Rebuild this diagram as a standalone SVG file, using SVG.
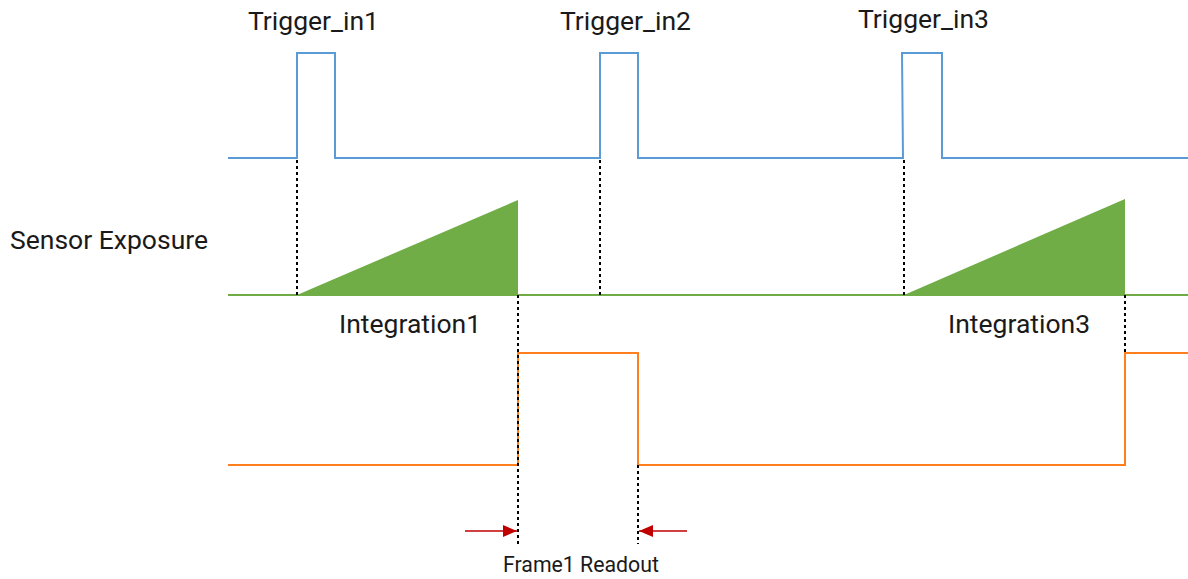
<svg xmlns="http://www.w3.org/2000/svg" width="1188" height="579" viewBox="0 0 1188 579">
<style>
.lbl{font-family:Roboto,"Liberation Sans",sans-serif;fill:#1a1a1a}
.big{font-size:26.5px}
.sm{font-size:21.3px}
.blue{fill:none;stroke:#5B9BD5;stroke-width:2}
.green{fill:none;stroke:#70AD47;stroke-width:2}
.orange{fill:none;stroke:#FF7F1E;stroke-width:2}
.dot{stroke:#000;stroke-width:2;stroke-dasharray:3 3;fill:none}
.tri{fill:#70AD47}
.red{stroke:#C00000;stroke-width:1.5;fill:none}
</style>
<defs>
<marker id="ah" viewBox="0 0 14 12" refX="14" refY="6" markerWidth="14" markerHeight="12" markerUnits="userSpaceOnUse" orient="auto">
<path d="M0,0 L14,6 L0,12 Z" fill="#C00000"/>
</marker>
</defs>
<g id="trigger-signal">
<polyline class="blue" points="228,158 297,158 297,53 335,53 335,158 600,158 600,53 638,53 638,158 903,158 902,53 942,53 942,158 1188,158"/>
</g>
<g id="exposure-signal">
<polyline class="green" points="228,295 1188,295"/>
<polygon id="integration1-shape" class="tri" points="297,295 518,200 518,295"/>
<polygon id="integration3-shape" class="tri" points="904,295 1125,199 1125,295"/>
</g>
<g id="readout-signal">
<polyline class="orange" points="228,465 518,465 518,353 638,353 638,465 1125,465 1125,353 1188,353"/>
</g>
<g id="connectors">
<line class="dot" x1="297" y1="160" x2="297" y2="295"/>
<line class="dot" x1="600" y1="160" x2="600" y2="295"/>
<line class="dot" x1="904" y1="160" x2="904" y2="295"/>
<line class="dot" x1="518" y1="295" x2="518" y2="544"/>
<line class="dot" x1="638" y1="465" x2="638" y2="544"/>
<line class="dot" x1="1125" y1="295" x2="1125" y2="353"/>
<line class="red" x1="465" y1="531" x2="517" y2="531" marker-end="url(#ah)"/>
<line class="red" x1="687" y1="531" x2="639" y2="531" marker-end="url(#ah)"/>
</g>
<g id="labels">
<text class="lbl big" x="248" y="30">Trigger_in1</text>
<text class="lbl big" x="560" y="30">Trigger_in2</text>
<text class="lbl big" x="858" y="28">Trigger_in3</text>
<text class="lbl big" x="10" y="249">Sensor Exposure</text>
<text class="lbl big" x="339" y="333">Integration1</text>
<text class="lbl big" x="948" y="333">Integration3</text>
<text class="lbl sm" x="581" y="572" text-anchor="middle">Frame1 Readout</text>
</g>
</svg>
